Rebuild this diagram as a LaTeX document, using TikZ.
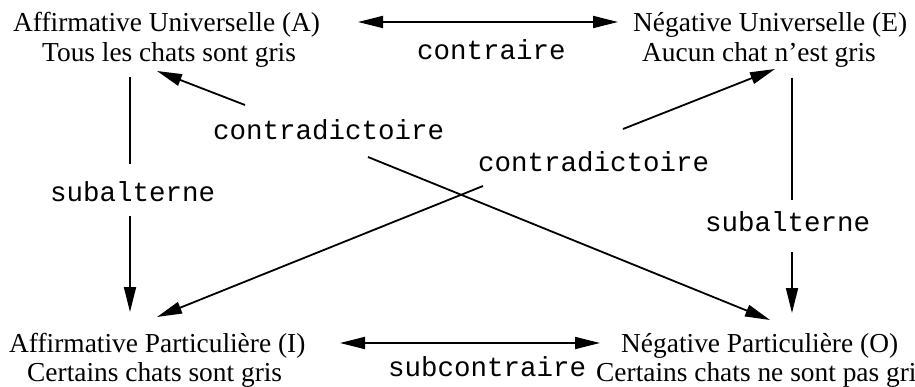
\documentclass[tikz,border=0pt]{standalone}
\usepackage{fontspec}
\setmainfont{Liberation Serif}
\setmonofont{Liberation Mono}
\usetikzlibrary{arrows.meta}
\tikzset{
  prop/.style={anchor=base west, inner sep=0pt, font=\fontsize{27.4}{30}\selectfont},
  lab/.style={anchor=base west, inner sep=0pt, font=\ttfamily\fontsize{27.5}{30}\selectfont},
  conn/.style={line width=1.8pt, draw=black},
  arr/.style={conn, -{Triangle[length=25pt,width=12pt]}},
  darr/.style={conn, {Triangle[length=25pt,width=12pt]}-{Triangle[length=25pt,width=12pt]}}
}
\begin{document}
\begin{tikzpicture}[x=1pt,y=-1pt]
\useasboundingbox (0,0) rectangle (915,387);
\clip (0,0) rectangle (915,387);
\fill[white] (0,0) rectangle (915,387);
% propositions
\node[prop] (A1) at (13,32) {Affirmative Universelle (A)};
\node[prop] (A2) at (42,62) {Tous les chats sont gris};
\node[prop] (E1) at (633,32) {Négative Universelle (E)};
\node[prop] (E2) at (642,62) {Aucun chat n'est gris};
\node[prop] (I1) at (9,352) {Affirmative Particulière (I)};
\node[prop] (I2) at (27,381) {Certains chats sont gris};
\node[prop] (O1) at (621,352) {Négative Particulière (O)};
\node[prop] (O2) at (596,381) {Certains chats ne sont pas gris};
% labels
\node[lab] (lc) at (417,60) {contraire};
\node[lab] (lcd1) at (213,140) {contradictoire};
\node[lab] (lcd2) at (478,172) {contradictoire};
\node[lab] (ls1) at (50,202) {subalterne};
\node[lab] (ls2) at (705,232) {subalterne};
\node[lab] (lsc) at (388,376) {subcontraire};
% connector end points
\coordinate (cAr) at (358,22);
\coordinate (cEl) at (618,22);
\coordinate (cIr) at (340,343);
\coordinate (cOl) at (600,343);
\coordinate (sA) at (130,77);
\coordinate (s1t) at (130,164);
\coordinate (s1b) at (130,216);
\coordinate (sI) at (130,312);
\coordinate (sE) at (792,78);
\coordinate (s2t) at (792,200);
\coordinate (s2b) at (792,252);
\coordinate (sO) at (792,313);
\coordinate (d1a) at (245,105);
\coordinate (tA) at (157,71);
\coordinate (d1b) at (368,157);
\coordinate (tO) at (770,320);
\coordinate (d2a) at (623,129);
\coordinate (tE) at (775,69);
\coordinate (d2b) at (483,186);
\coordinate (tI) at (157,317);
% connectors
\draw[darr] (cAr) -- (cEl);
\draw[darr] (cIr) -- (cOl);
\draw[conn] (sA) -- (s1t);
\draw[arr] (s1b) -- (sI);
\draw[conn] (sE) -- (s2t);
\draw[arr] (s2b) -- (sO);
\draw[arr] (d1a) -- (tA);
\draw[arr] (d1b) -- (tO);
\draw[arr] (d2a) -- (tE);
\draw[arr] (d2b) -- (tI);
\end{tikzpicture}
\end{document}
